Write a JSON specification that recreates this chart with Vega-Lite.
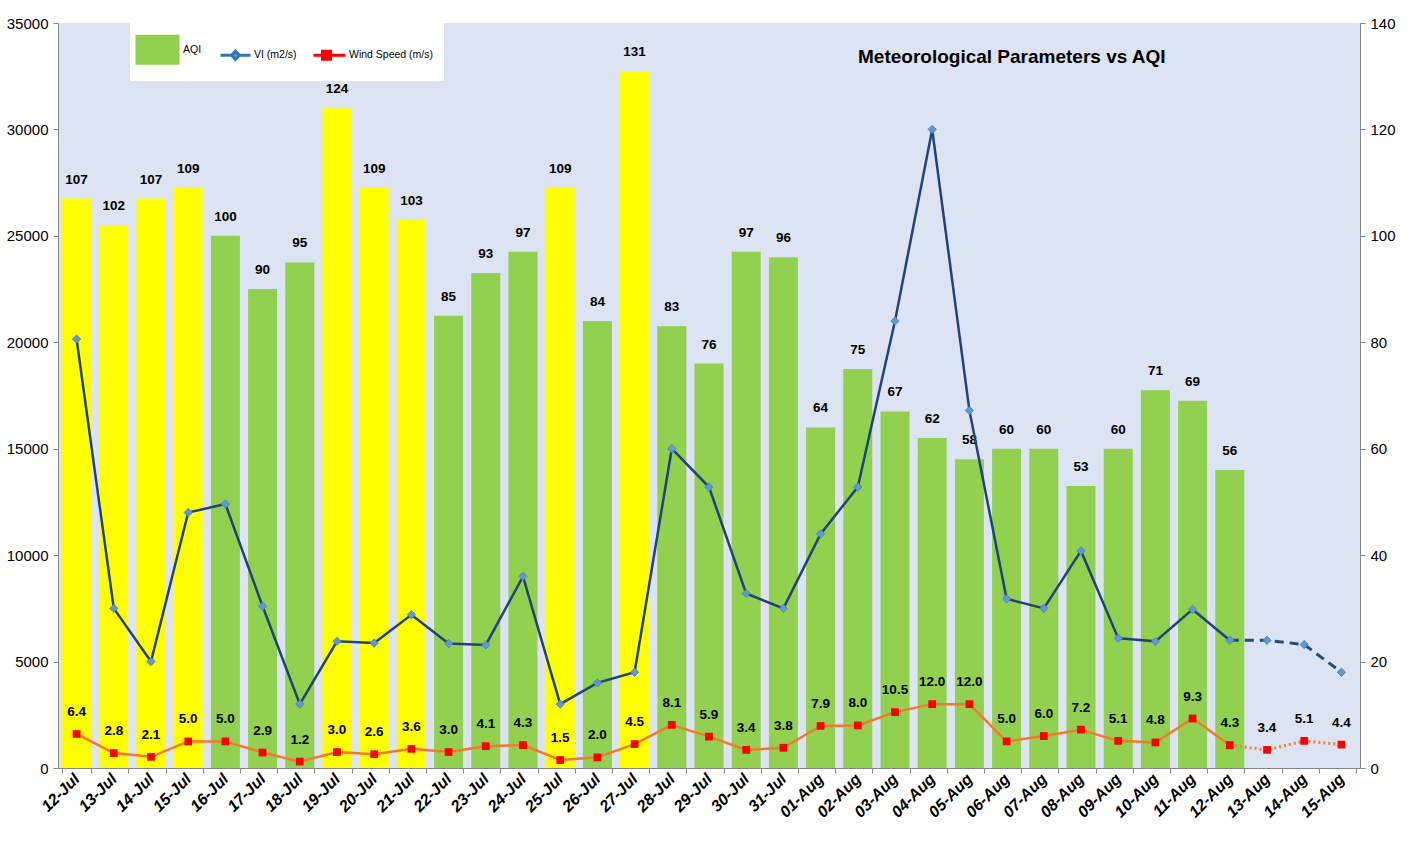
{
  "$schema": "https://vega.github.io/schema/vega-lite/v6.json",
  "width": 1302,
  "height": 745,
  "autosize": {"type": "none"},
  "padding": {"left": 58, "top": 23, "right": 48, "bottom": 90},
  "background": "#FFFFFF",
  "title": {
    "text": "Meteorological Parameters vs AQI",
    "anchor": "start",
    "frame": "group",
    "dx": 800,
    "dy": 55,
    "font": "Liberation Sans",
    "fontSize": 19,
    "fontWeight": "bold",
    "color": "#000000"
  },
  "data": {
    "values": [
      {"date": "12-Jul", "aqi": 107, "vi": 20150, "ws": 6.4, "obs": true, "fc": false},
      {"date": "13-Jul", "aqi": 102, "vi": 7500, "ws": 2.8, "obs": true, "fc": false},
      {"date": "14-Jul", "aqi": 107, "vi": 5000, "ws": 2.1, "obs": true, "fc": false},
      {"date": "15-Jul", "aqi": 109, "vi": 12000, "ws": 5.0, "obs": true, "fc": false},
      {"date": "16-Jul", "aqi": 100, "vi": 12400, "ws": 5.0, "obs": true, "fc": false},
      {"date": "17-Jul", "aqi": 90, "vi": 7600, "ws": 2.9, "obs": true, "fc": false},
      {"date": "18-Jul", "aqi": 95, "vi": 3000, "ws": 1.2, "obs": true, "fc": false},
      {"date": "19-Jul", "aqi": 124, "vi": 5950, "ws": 3.0, "obs": true, "fc": false},
      {"date": "20-Jul", "aqi": 109, "vi": 5870, "ws": 2.6, "obs": true, "fc": false},
      {"date": "21-Jul", "aqi": 103, "vi": 7200, "ws": 3.6, "obs": true, "fc": false},
      {"date": "22-Jul", "aqi": 85, "vi": 5850, "ws": 3.0, "obs": true, "fc": false},
      {"date": "23-Jul", "aqi": 93, "vi": 5780, "ws": 4.1, "obs": true, "fc": false},
      {"date": "24-Jul", "aqi": 97, "vi": 9000, "ws": 4.3, "obs": true, "fc": false},
      {"date": "25-Jul", "aqi": 109, "vi": 3000, "ws": 1.5, "obs": true, "fc": false},
      {"date": "26-Jul", "aqi": 84, "vi": 4000, "ws": 2.0, "obs": true, "fc": false},
      {"date": "27-Jul", "aqi": 131, "vi": 4500, "ws": 4.5, "obs": true, "fc": false},
      {"date": "28-Jul", "aqi": 83, "vi": 15000, "ws": 8.1, "obs": true, "fc": false},
      {"date": "29-Jul", "aqi": 76, "vi": 13200, "ws": 5.9, "obs": true, "fc": false},
      {"date": "30-Jul", "aqi": 97, "vi": 8200, "ws": 3.4, "obs": true, "fc": false},
      {"date": "31-Jul", "aqi": 96, "vi": 7500, "ws": 3.8, "obs": true, "fc": false},
      {"date": "01-Aug", "aqi": 64, "vi": 11000, "ws": 7.9, "obs": true, "fc": false},
      {"date": "02-Aug", "aqi": 75, "vi": 13200, "ws": 8.0, "obs": true, "fc": false},
      {"date": "03-Aug", "aqi": 67, "vi": 21000, "ws": 10.5, "obs": true, "fc": false},
      {"date": "04-Aug", "aqi": 62, "vi": 30000, "ws": 12.0, "obs": true, "fc": false},
      {"date": "05-Aug", "aqi": 58, "vi": 16800, "ws": 12.0, "obs": true, "fc": false},
      {"date": "06-Aug", "aqi": 60, "vi": 7950, "ws": 5.0, "obs": true, "fc": false},
      {"date": "07-Aug", "aqi": 60, "vi": 7500, "ws": 6.0, "obs": true, "fc": false},
      {"date": "08-Aug", "aqi": 53, "vi": 10200, "ws": 7.2, "obs": true, "fc": false},
      {"date": "09-Aug", "aqi": 60, "vi": 6100, "ws": 5.1, "obs": true, "fc": false},
      {"date": "10-Aug", "aqi": 71, "vi": 5950, "ws": 4.8, "obs": true, "fc": false},
      {"date": "11-Aug", "aqi": 69, "vi": 7450, "ws": 9.3, "obs": true, "fc": false},
      {"date": "12-Aug", "aqi": 56, "vi": 6000, "ws": 4.3, "obs": true, "fc": true},
      {"date": "13-Aug", "aqi": null, "vi": 6000, "ws": 3.4, "obs": false, "fc": true},
      {"date": "14-Aug", "aqi": null, "vi": 5800, "ws": 5.1, "obs": false, "fc": true},
      {"date": "15-Aug", "aqi": null, "vi": 4500, "ws": 4.4, "obs": false, "fc": true}
    ]
  },
  "encoding": {
    "x": {
      "field": "date",
      "type": "nominal",
      "sort": null,
      "title": null,
      "scale": {"paddingInner": 0.22, "paddingOuter": 0.11},
      "axis": {
        "labelAngle": -45,
        "labelAlign": "right",
        "labelBaseline": "middle",
        "tickBand": "extent",
        "labelFont": "Liberation Sans",
        "labelFontSize": 16,
        "labelFontWeight": "bold",
        "labelFontStyle": "italic",
        "labelColor": "#000000",
        "labelPadding": 3,
        "tickSize": 5,
        "tickColor": "#868686",
        "domainColor": "#868686",
        "grid": false
      }
    }
  },
  "layer": [
    {
      "encoding": {
        "y": {
          "field": "aqi",
          "type": "quantitative",
          "title": null,
          "scale": {"domain": [0, 140], "nice": false, "zero": true},
          "axis": {
            "orient": "right",
            "values": [0, 20, 40, 60, 80, 100, 120, 140],
            "format": "d",
            "labelFont": "Liberation Sans",
            "labelFontSize": 15,
            "labelColor": "#000000",
            "tickSize": 5,
            "tickColor": "#868686",
            "domainColor": "#868686",
            "labelPadding": 5,
            "grid": false
          }
        }
      },
      "layer": [
        {
          "transform": [{"filter": "isValid(datum.aqi)"}],
          "mark": {"type": "bar"},
          "encoding": {
            "fill": {
              "condition": {"test": "datum.aqi > 100", "value": "#FFFF00"},
              "value": "#92D050"
            }
          }
        },
        {
          "transform": [{"filter": "isValid(datum.aqi)"}],
          "mark": {
            "type": "text",
            "baseline": "bottom",
            "dy": -12,
            "font": "Liberation Sans",
            "fontSize": 13.5,
            "fontWeight": "bold",
            "color": "#000000"
          },
          "encoding": {"text": {"field": "aqi", "type": "quantitative"}}
        }
      ]
    },
    {
      "encoding": {
        "y": {
          "field": "vi",
          "type": "quantitative",
          "title": null,
          "scale": {"domain": [0, 35000], "nice": false, "zero": true},
          "axis": {
            "orient": "left",
            "values": [0, 5000, 10000, 15000, 20000, 25000, 30000, 35000],
            "format": "d",
            "labelFont": "Liberation Sans",
            "labelFontSize": 15,
            "labelColor": "#000000",
            "tickSize": 5,
            "tickColor": "#868686",
            "domainColor": "#868686",
            "labelPadding": 5,
            "grid": false
          }
        }
      },
      "layer": [
        {
          "transform": [{"filter": "datum.obs"}],
          "mark": {"type": "line", "color": "#21427A", "strokeWidth": 2.5}
        },
        {
          "transform": [{"filter": "datum.fc"}],
          "mark": {"type": "line", "color": "#1F4E79", "strokeWidth": 3, "strokeDash": [9, 6]}
        },
        {
          "mark": {"type": "point", "shape": "diamond", "filled": true, "size": 70, "opacity": 1, "stroke": "#4A7EBB", "strokeWidth": 0.8},
          "encoding": {
            "color": {
              "datum": "VI (m2/s)",
              "scale": {
                "domain": ["AQI", "VI (m2/s)", "Wind Speed (m/s)"],
                "range": ["#92D050", "#5B9BD5", "#FF0000"]
              },
              "legend": {
                "title": null,
                "orient": "none",
                "legendX": 72,
                "legendY": 0,
                "direction": "horizontal",
                "fillColor": "#FFFFFF",
                "padding": 10,
                "symbolSize": 900,
                "labelOffset": 10,
                "columnPadding": 9,
                "labelFont": "Liberation Sans",
                "labelFontSize": 10.5,
                "labelColor": "#000000",
                "encoding": {
                  "symbols": {
                    "shape": {"value": {"expr": "datum.value === 'AQI' ? 'M-1.4,-1H1.533V1H-1.4Z' : (datum.value === 'VI (m2/s)' ? 'M-0.467,0H0.267M0.8,0H1.533M0.267,0L0.533,-0.267L0.8,0L0.533,0.267Z' : 'M-0.6,0H0M0.533,0H1.533M0,-0.267H0.533V0.267H0Z')"}},
                    "stroke": {"value": {"expr": "datum.value === 'AQI' ? 'transparent' : (datum.value === 'VI (m2/s)' ? '#2E75B6' : '#FF0000')"}},
                    "strokeWidth": {"value": 3},
                    "opacity": {"value": 1}
                  }
                }
              }
            }
          }
        }
      ]
    },
    {
      "encoding": {
        "y": {
          "field": "ws",
          "type": "quantitative",
          "title": null,
          "scale": {"domain": [0, 140], "nice": false, "zero": true},
          "axis": null
        }
      },
      "layer": [
        {
          "transform": [{"filter": "datum.obs"}],
          "mark": {"type": "line", "color": "#F07A2E", "strokeWidth": 2.5}
        },
        {
          "transform": [{"filter": "datum.fc"}],
          "mark": {"type": "line", "color": "#F47C30", "strokeWidth": 3, "strokeDash": [2, 3]}
        },
        {
          "mark": {"type": "point", "shape": "square", "filled": true, "size": 60, "opacity": 1},
          "encoding": {"color": {"datum": "Wind Speed (m/s)"}}
        },
        {
          "mark": {
            "type": "text",
            "baseline": "bottom",
            "dy": -15,
            "font": "Liberation Sans",
            "fontSize": 13.5,
            "fontWeight": "bold",
            "color": "#000000"
          },
          "encoding": {"text": {"field": "ws", "type": "quantitative", "format": ".1f"}}
        }
      ]
    }
  ],
  "resolve": {"scale": {"y": "independent"}, "axis": {"y": "independent"}},
  "config": {
    "view": {"fill": "#DCE3F2", "stroke": null},
    "axis": {"grid": false}
  }
}
